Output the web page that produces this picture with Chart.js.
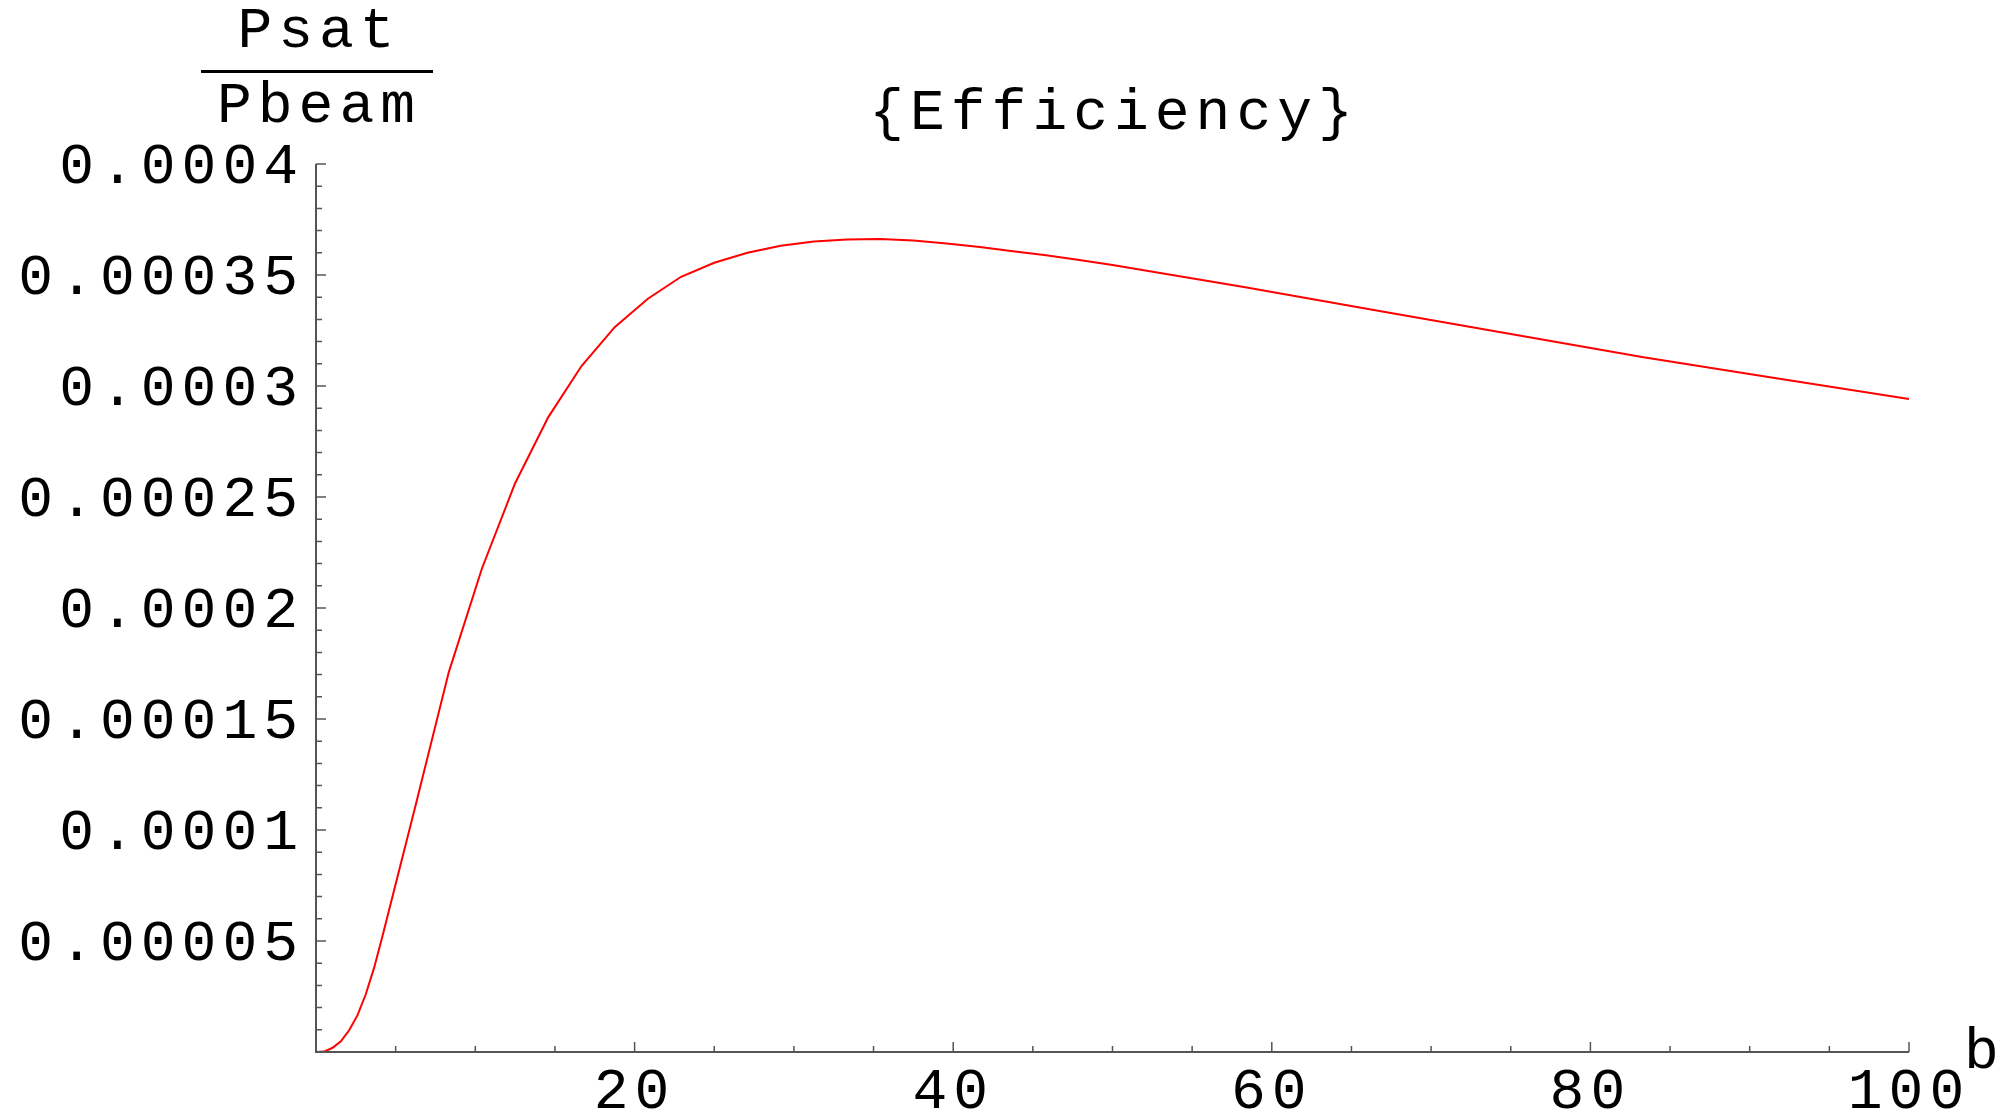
<!DOCTYPE html>
<html>
<head>
<meta charset="utf-8">
<script src="https://cdn.jsdelivr.net/npm/chart.js@4.4.0/dist/chart.umd.min.js"></script>
<style>
  html, body { margin: 0; padding: 0; background: #fff; }
  #wrap { width: 2005px; height: 1118px; }
</style>
</head>
<body>
<div id="wrap"><canvas id="effChart" width="2005" height="1118"></canvas></div>
<script>
// values: b on x, Psat/Pbeam on y
const bValues = [0, 0.52, 1.04, 1.56, 2.08, 2.6, 3.125, 3.65, 4.167, 6.25, 8.333, 10.417, 12.5, 14.583,
  16.667, 18.75, 20.833, 22.917, 25, 27.083, 29.167, 31.25, 33.333, 35.417,
  37.5, 39.583, 41.667, 43.75, 45.833, 47.917, 50, 58.333, 66.667, 75, 83.333, 91.667, 100];
const efficiency = [0, 2e-7, 1.9e-6, 4.8e-6, 9.8e-6, 1.65e-5, 2.6e-5, 3.8e-5, 5.2e-5, 1.11e-4, 1.71e-4, 2.178e-4, 2.562e-4, 2.86e-4,
  3.09e-4, 3.265e-4, 3.393e-4, 3.492e-4, 3.555e-4, 3.6e-4, 3.632e-4, 3.651e-4, 3.66e-4, 3.662e-4,
  3.655e-4, 3.642e-4, 3.626e-4, 3.607e-4, 3.589e-4, 3.568e-4, 3.545e-4, 3.445e-4, 3.339e-4, 3.234e-4, 3.13e-4, 3.035e-4, 2.941e-4];

const xTickLabels = ['20', '40', '60', '80', '100'];
const yTickLabels = ['0.00005', '0.0001', '0.00015', '0.0002', '0.00025', '0.0003', '0.00035', '0.0004'];

const FONT = 'Liberation Mono';
const FONT_SIZE = 58;
const SPACING = '6px';

// axes with inward ticks, fraction label, title
const axisDecor = {
  id: 'axisDecor',
  beforeDraw(chart) {
    chart.ctx.letterSpacing = SPACING;
  },
  afterDraw(chart) {
    const { ctx, scales: { x, y } } = chart;
    const x0 = x.getPixelForValue(0), x1 = x.getPixelForValue(100);
    const y0 = y.getPixelForValue(0), y1 = y.getPixelForValue(0.0004);
    ctx.save();
    ctx.strokeStyle = '#555';
    ctx.lineWidth = 2;
    ctx.beginPath();
    ctx.moveTo(x0, y1);
    ctx.lineTo(x0, y0);
    ctx.lineTo(x1, y0);
    ctx.stroke();
    ctx.lineWidth = 1.5;
    ctx.beginPath();
    for (let k = 1; k <= 20; k++) {
      const px = x.getPixelForValue(k * 5);
      ctx.moveTo(px, y0);
      ctx.lineTo(px, y0 - (k % 4 === 0 ? 10 : 6));
    }
    for (let k = 1; k <= 40; k++) {
      const py = y.getPixelForValue(k * 1e-5);
      ctx.moveTo(x0, py);
      ctx.lineTo(x0 + (k % 5 === 0 ? 10 : 6), py);
    }
    ctx.stroke();

    ctx.fillStyle = '#000';
    ctx.font = FONT_SIZE + 'px "' + FONT + '"';
    ctx.textBaseline = 'alphabetic';
    ctx.textAlign = 'center';
    ctx.fillText('Psat', 319, 47);
    ctx.fillText('Pbeam', 319, 122);
    ctx.fillText('{Efficiency}', 1114, 129);
    ctx.textAlign = 'left';
    ctx.fillText('b', 1964, 1068);
    ctx.fillRect(201, 70, 232, 3);
    ctx.restore();
  }
};

new Chart(document.getElementById('effChart'), {
  type: 'line',
  data: {
    datasets: [{
      data: bValues.map((b, i) => ({ x: b, y: efficiency[i] })),
      borderColor: '#ff0000',
      borderWidth: 2,
      pointRadius: 0,
      tension: 0,
      fill: false
    }]
  },
  options: {
    responsive: false,
    animation: false,
    layout: { padding: { top: 164, right: 96, left: 0, bottom: 0 } },
    plugins: { legend: { display: false }, tooltip: { enabled: false } },
    scales: {
      x: {
        type: 'linear', min: 0, max: 100,
        grid: { display: false, drawTicks: false },
        border: { display: false },
        ticks: {
          stepSize: 20, padding: 6, color: '#000', maxRotation: 0,
          font: { family: FONT, size: FONT_SIZE },
          callback: (v, i) => (i === 0 ? '' : xTickLabels[i - 1])
        },
        afterFit(s) { s.height = 66; }
      },
      y: {
        type: 'linear', min: 0, max: 0.0004,
        grid: { display: false, drawTicks: false },
        border: { display: false },
        ticks: {
          stepSize: 0.00005, padding: 12, labelOffset: 4, color: '#000',
          font: { family: FONT, size: FONT_SIZE },
          callback: (v, i) => (i === 0 ? '' : yTickLabels[i - 1])
        },
        afterFit(s) { s.width = 316; }
      }
    }
  },
  plugins: [axisDecor]
});
</script>
</body>
</html>
